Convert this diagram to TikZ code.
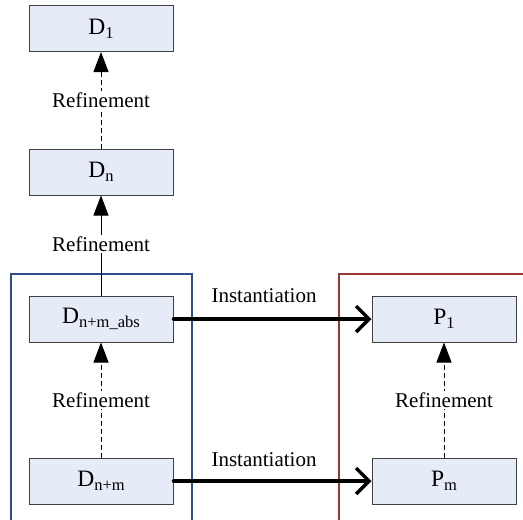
\documentclass[tikz,border=0pt]{standalone}
\usepackage{fontspec}
\setmainfont{Liberation Serif}
\usetikzlibrary{arrows.meta}
\definecolor{boxfill}{RGB}{230,236,247}
\definecolor{boxline}{RGB}{64,64,64}
\definecolor{frameblue}{RGB}{45,80,140}
\definecolor{framered}{RGB}{155,55,50}
\newcommand\lowidx[1]{\raisebox{-4pt}{\fontsize{16.5}{17}\selectfont #1}}
\tikzset{
  blk/.style={draw=boxline, fill=boxfill, line width=1pt, minimum width=144pt,
    minimum height=46pt, inner sep=0pt, font=\fontsize{23.5}{24}\selectfont},
  lbl/.style={fill=white, inner sep=1.5pt, font=\fontsize{21}{22}\selectfont},
  refine/.style={line width=0.9pt, -{Triangle[width=15pt,length=20pt]}},
  dashedline/.style={dash pattern=on 5pt off 3pt},
  inst/.style={line width=3.5pt, line cap=round,
    -{Straight Barb[length=13pt,width=26pt,line width=3.5pt]}},
}
\begin{document}
\begin{tikzpicture}[x=1pt,y=-1pt]
\useasboundingbox (0,0) rectangle (523,520);
\clip (0,0) rectangle (523,520);
% groups
\draw[frameblue, line width=1.2pt] (11,274) rectangle (192,540);
\draw[framered, line width=1.2pt] (339,274) rectangle (540,540);
% design levels
\node[blk] (d1) at (101,28.5) {D\lowidx{1}};
\node[blk] (dn) at (101,172) {D\lowidx{n}};
\node[blk] (dabs) at (101,319) {D\lowidx{n+m\_abs}};
\node[blk] (dnm) at (101,481) {D\lowidx{n+m}};
% programs
\node[blk] (p1) at (444,319) {P\lowidx{1}};
\node[blk] (pm) at (444,481) {P\lowidx{m}};
% refinements
\draw[refine, dashedline] (dn.north) -- (d1.south);
\draw[refine] (dabs.north) -- (dn.south);
\draw[refine, dashedline] (dnm.north) -- (dabs.south);
\draw[refine, dashedline] (pm.north) -- (p1.south);
\node[lbl] (r1) at (101,100) {Refinement};
\node[lbl] (r2) at (101,244) {Refinement};
\node[lbl] (r3) at (101,400) {Refinement};
\node[lbl] (r4) at (444,400) {Refinement};
% instantiations
\draw[inst] (dabs.east) -- (p1.west);
\draw[inst] (dnm.east) -- (pm.west);
\node[lbl, fill=none] (i1) at (264,296) {Instantiation};
\node[lbl, fill=none] (i2) at (264,460) {Instantiation};
\end{tikzpicture}
\end{document}
